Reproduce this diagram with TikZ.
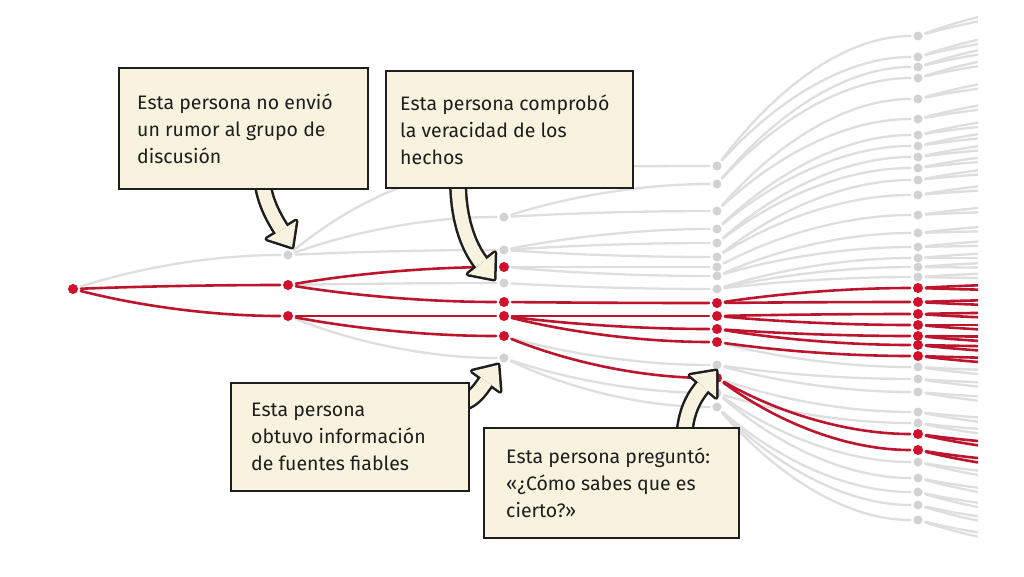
\documentclass[tikz,border=0pt]{standalone}
\usepackage{fontspec}
\setmainfont{Fira Sans}
\usetikzlibrary{calc}
\definecolor{cream}{RGB}{247,243,222}
\definecolor{lgray}{RGB}{222,222,222}
\definecolor{dgray}{RGB}{210,210,210}
\definecolor{rumor}{RGB}{210,16,43}
\definecolor{rline}{RGB}{188,22,46}
\definecolor{ink}{RGB}{30,30,30}
\newcommand\conn[5]{\path[#1] (n-#2-#3) .. controls ({#2+0.33*(#4-#2)},{#3+0.67*(#5-#3)}) and ({#2+0.67*(#4-#2)},#5) .. (n-#4-#5);}
\newcommand\blockarrow[7]{%
  \draw[ink, line width=18pt] #1 .. controls #2 and #3 .. #4;
  \filldraw[ink, line width=5pt, line join=round] #6 -- #5 -- #7 -- cycle;
  \draw[cream, line width=13pt] #1 .. controls #2 and #3 .. #4;
  \fill[cream] #6 -- #5 -- #7 -- cycle;}
\begin{document}
\begin{tikzpicture}[x=1pt,y=-1pt,
  gdot/.style={circle, fill=dgray, minimum size=9pt, inner sep=0pt, outer sep=3pt},
  rdot/.style={circle, fill=rumor, minimum size=10pt, inner sep=0pt, outer sep=3pt},
  gedge/.style={draw=lgray, line width=2.3pt, line cap=round},
  redge/.style={draw=rline, line width=2.6pt, line cap=round},
  box/.style={draw=ink, line width=2.4pt, fill=cream, anchor=north west, inner sep=0pt},
  boxtext/.style={anchor=west, inner sep=0pt, align=left, text=ink, font=\fontsize{19.5}{27}\selectfont}]
\useasboundingbox (0,0) rectangle (1024,576);
\fill[white] (0,0) rectangle (1024,576);

% ---- nodes ----
\node[rdot] (n-73-289) at (73,289) {};
\node[gdot] (n-288-255) at (288,255) {};
\foreach \y in {285,316} \node[rdot] (n-288-\y) at (288,\y) {};
\foreach \y in {168,217,250,283,358} \node[gdot] (n-504-\y) at (504,\y) {};
\foreach \y in {267,302,316,336} \node[rdot] (n-504-\y) at (504,\y) {};
\foreach \y in {166,184,211,229,243,257,267,276,289,365,393,407} \node[gdot] (n-717-\y) at (717,\y) {};
\foreach \y in {303,316,329,342,378} \node[rdot] (n-717-\y) at (717,\y) {};
\foreach \y in {36,57,67,78,99,119,135,146,157,168,180,195,215,233,247,258,267,277,367,379,392,412,423,462,478,492,505,520}
  \node[gdot] (n-918-\y) at (918,\y) {};
\foreach \y in {288,302,314,325,336,345,356,434,450} \node[rdot] (n-918-\y) at (918,\y) {};

% ---- gray connectors ----
\foreach \a/\b/\c/\d in {
  73/289/288/255,
  288/255/504/168, 288/255/504/217, 288/255/504/250,
  288/285/504/283, 288/316/504/358,
  504/168/717/166, 504/217/717/184, 504/217/717/211,
  504/250/717/229, 504/250/717/243, 504/250/717/257,
  504/267/717/267, 504/267/717/276, 504/283/717/289,
  504/336/717/365, 504/358/717/393, 504/358/717/407,
  717/166/918/36, 717/166/918/57, 717/184/918/67, 717/184/918/78,
  717/211/918/99, 717/211/918/119, 717/229/918/135, 717/229/918/146,
  717/243/918/157, 717/243/918/168, 717/257/918/180, 717/257/918/195,
  717/267/918/215, 717/276/918/233, 717/276/918/247,
  717/289/918/258, 717/289/918/267, 717/289/918/277,
  717/342/918/367, 717/365/918/379, 717/365/918/392, 717/378/918/412,
  717/393/918/423, 717/393/918/462, 717/393/918/478,
  717/407/918/492, 717/407/918/505, 717/407/918/520}
  {\conn{gedge}{\a}{\b}{\c}{\d}}

% ---- red connectors ----
\foreach \a/\b/\c/\d in {
  73/289/288/285, 73/289/288/316,
  288/285/504/267, 288/285/504/302,
  288/316/504/316, 288/316/504/336,
  504/302/717/303, 504/316/717/316, 504/316/717/329, 504/316/717/342,
  504/336/717/378,
  717/303/918/288, 717/303/918/302, 717/316/918/314, 717/316/918/325,
  717/329/918/336, 717/329/918/345, 717/342/918/356,
  717/378/918/434, 717/378/918/450}
  {\conn{redge}{\a}{\b}{\c}{\d}}

% ---- connectors leaving the picture on the right ----
\begin{scope}
\clip (0,0) rectangle (978,576);
\foreach \y in {36,57,67,78,99,119,135,146,157,168,180,195,215,233,247,258,267,277,367,379,392,412,423,462,478,492,505,520} {
  \pgfmathtruncatemacro\ya{290+(\y-290)*1.12-4}
  \pgfmathtruncatemacro\yb{290+(\y-290)*1.12+4}
  \coordinate (n-1110-\ya) at (1110,\ya);
  \coordinate (n-1110-\yb) at (1110,\yb);
  \conn{gedge}{918}{\y}{1110}{\ya}
  \conn{gedge}{918}{\y}{1110}{\yb}
}
\foreach \y in {288,302,314,325,336,345,356,434,450} {
  \pgfmathtruncatemacro\ya{290+(\y-290)*1.12-4}
  \pgfmathtruncatemacro\yb{290+(\y-290)*1.12+4}
  \coordinate (n-1110-\ya) at (1110,\ya);
  \coordinate (n-1110-\yb) at (1110,\yb);
  \conn{redge}{918}{\y}{1110}{\ya}
  \conn{redge}{918}{\y}{1110}{\yb}
}
\end{scope}

% ---- block arrows ----
\blockarrow{(262,180)}{(265,203)}{(274,218)}{(281.5,230)}{(292,247)}{(296,221.1)}{(267,238.9)}
\blockarrow{(458,180)}{(458,225)}{(471.5,250.9)}{(481.5,263.4)}{(494,279)}{(494.8,252.8)}{(468.2,274)}
\blockarrow{(455,404)}{(472,403)}{(479.1,390.9)}{(486.2,381.2)}{(498,365)}{(500,391.2)}{(472.4,371.2)}
\blockarrow{(684,440)}{(685,412)}{(694,397)}{(703.1,386.3)}{(716,371)}{(716.1,397.3)}{(690.1,375.3)}

% ---- boxes ----
\node[box, minimum width=249pt, minimum height=121pt] (b1) at (118,67) {};
\node[boxtext] (t1) at ($(b1.west)+(19,0)$) {Esta persona no envió\\un rumor al grupo de\\discusión};
\node[box, minimum width=247pt, minimum height=117pt] (b2) at (385,70) {};
\node[boxtext] (t2) at ($(b2.west)+(15,0)$) {Esta persona comprobó\\la veracidad de los\\hechos};
\node[box, minimum width=238pt, minimum height=108pt] (b3) at (230,382) {};
\node[boxtext] (t3) at ($(b3.west)+(21,0)$) {Esta persona\\obtuvo información\\de fuentes fiables};
\node[box, minimum width=255pt, minimum height=110pt] (b4) at (483,427) {};
\node[boxtext] (t4) at ($(b4.west)+(23,0)$) {Esta persona preguntó:\\«¿Cómo sabes que es\\cierto?»};
\end{tikzpicture}
\end{document}
